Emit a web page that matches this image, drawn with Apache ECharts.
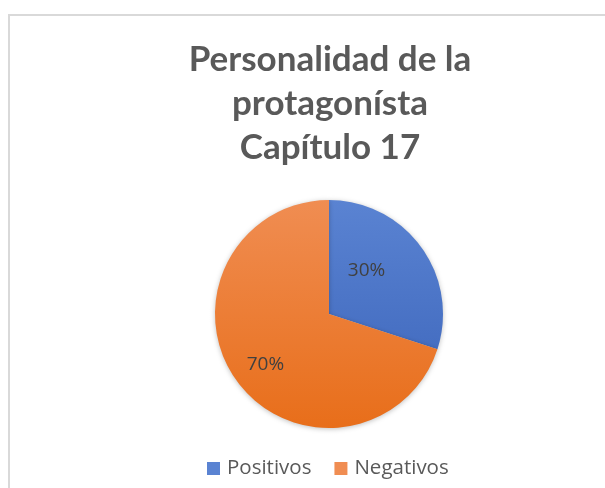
<!DOCTYPE html>
<html>
<head>
<meta charset="utf-8">
<script src="https://cdn.jsdelivr.net/npm/echarts@6/dist/echarts.min.js"></script>
<style>
html,body{margin:0;padding:0;background:#fff;}
#chart{width:605px;height:488px;}
</style>
</head>
<body>
<div id="chart"></div>
<script>
const titleLines = ['Personalidad de la', 'protagonísta', 'Capítulo 17'];
const categories = ['Positivos', 'Negativos'];
const values = [30, 70];
const colorsTop = ['#5a83d2', '#f08d52'];
const colorsBottom = ['#3a63b9', '#e86e1a'];

const chart = echarts.init(document.getElementById('chart'), null, {renderer: 'canvas'});

const data = categories.map((c, i) => ({
  name: c,
  value: values[i],
  itemStyle: {
    color: new echarts.graphic.LinearGradient(0, 200, 0, 428, [
      {offset: 0, color: colorsTop[i]},
      {offset: 1, color: colorsBottom[i]}
    ], true)
  },
  label: i === 1 ? {offset: [-15, 15]} : {offset: [-11, -8]}
}));

chart.setOption({
  animation: false,
  backgroundColor: '#ffffff',
  graphic: [{
    type: 'rect',
    shape: {x: 9, y: 15, width: 640, height: 520},
    style: {fill: 'none', stroke: '#d9d9d9', lineWidth: 2},
    silent: true
  }],
  title: {
    text: titleLines.join('\n'),
    left: 325,
    textAlign: 'center',
    top: 33,
    textStyle: {
      fontFamily: 'Lato',
      fontWeight: 'bold',
      fontSize: 35,
      lineHeight: 44,
      color: '#595959'
    }
  },
  legend: {
    data: categories,
    top: 458,
    left: 207,
    padding: 0,
    itemWidth: 13,
    itemHeight: 13,
    itemGap: 23,
    icon: 'rect',
    textStyle: {fontFamily: 'Open Sans', fontSize: 20.5, color: '#595959', padding: [0, 0, 0, 2]}
  },
  series: [{
    type: 'pie',
    center: [329, 314],
    radius: 114,
    startAngle: 90,
    clockwise: true,
    data: data,
    label: {
      show: true,
      position: 'inside',
      formatter: '{d}%',
      fontFamily: 'Open Sans',
      fontSize: 19,
      color: '#404040'
    },
    labelLine: {show: false},
    itemStyle: {
      borderWidth: 0,
      shadowBlur: 5,
      shadowColor: 'rgba(0,0,0,0.25)',
      shadowOffsetY: 1
    },
    emphasis: {disabled: true}
  }]
});
</script>
</body>
</html>
